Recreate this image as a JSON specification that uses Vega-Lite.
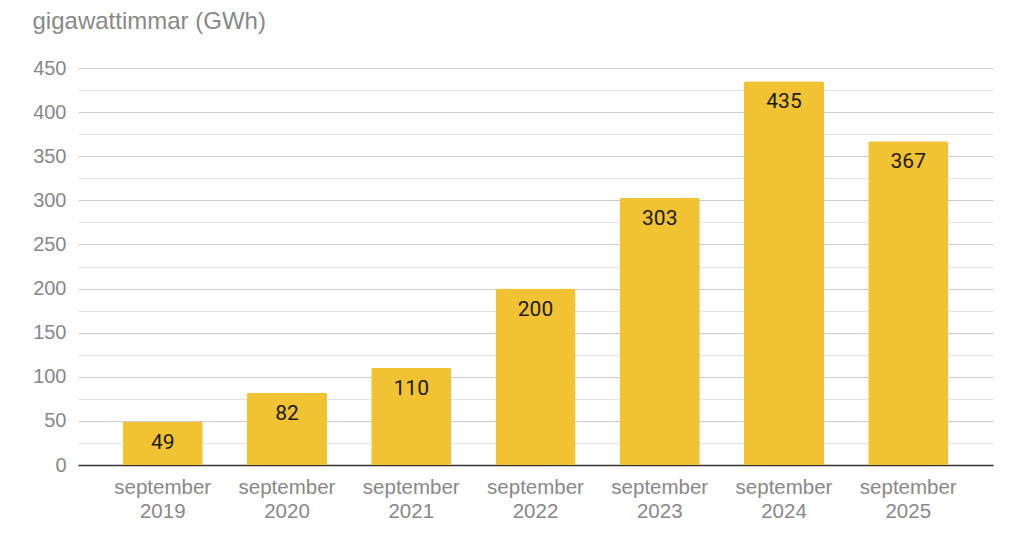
{
  "$schema": "https://vega.github.io/schema/vega-lite/v6.json",
  "width": 915,
  "height": 397,
  "autosize": "none",
  "padding": {"left": 78, "top": 68, "right": 31, "bottom": 90},
  "background": "white",
  "config": {"view": {"stroke": null}, "font": "Liberation Sans"},
  "data": {
    "values": [
      {"month": "september 2019", "gwh": 49},
      {"month": "september 2020", "gwh": 82},
      {"month": "september 2021", "gwh": 110},
      {"month": "september 2022", "gwh": 200},
      {"month": "september 2023", "gwh": 303},
      {"month": "september 2024", "gwh": 435},
      {"month": "september 2025", "gwh": 367}
    ]
  },
  "encoding": {
    "x": {
      "field": "month",
      "type": "nominal",
      "sort": null,
      "scale": {"paddingInner": 0.356, "paddingOuter": 0.36},
      "axis": {
        "title": null,
        "labelAngle": 0,
        "labelExpr": "split(datum.label, ' ')",
        "labelFontSize": 20.5,
        "labelLineHeight": 24,
        "labelPadding": 12,
        "labelColor": "#888888",
        "ticks": false,
        "domainColor": "#333333",
        "domainWidth": 1.5
      }
    },
    "y": {
      "field": "gwh",
      "type": "quantitative",
      "scale": {"domain": [0, 450], "nice": false},
      "axis": {
        "title": "gigawattimmar (GWh)",
        "titleAngle": 0,
        "titleAlign": "left",
        "titleBaseline": "alphabetic",
        "titleX": -46,
        "titleY": -40,
        "titleFontSize": 24,
        "titleFontWeight": "normal",
        "titleColor": "#888888",
        "values": [0, 25, 50, 75, 100, 125, 150, 175, 200, 225, 250, 275, 300, 325, 350, 375, 400, 425, 450],
        "labelExpr": "datum.value % 50 === 0 ? datum.label : ''",
        "labelFontSize": 20,
        "labelColor": "#888888",
        "labelPadding": 12,
        "ticks": false,
        "domain": false,
        "grid": true,
        "gridColor": {"condition": {"test": "datum.value % 50 === 0", "value": "#cccccc"}, "value": "#e3e3e3"},
        "gridWidth": 1
      }
    }
  },
  "layer": [
    {
      "mark": {"type": "bar", "color": "#F1C232", "cornerRadiusEnd": 2}
    },
    {
      "mark": {"type": "text", "baseline": "middle", "dy": 21, "font": "Roboto", "fontSize": 21, "color": "#1a1a1a"},
      "encoding": {"text": {"field": "gwh", "type": "quantitative"}}
    }
  ]
}
